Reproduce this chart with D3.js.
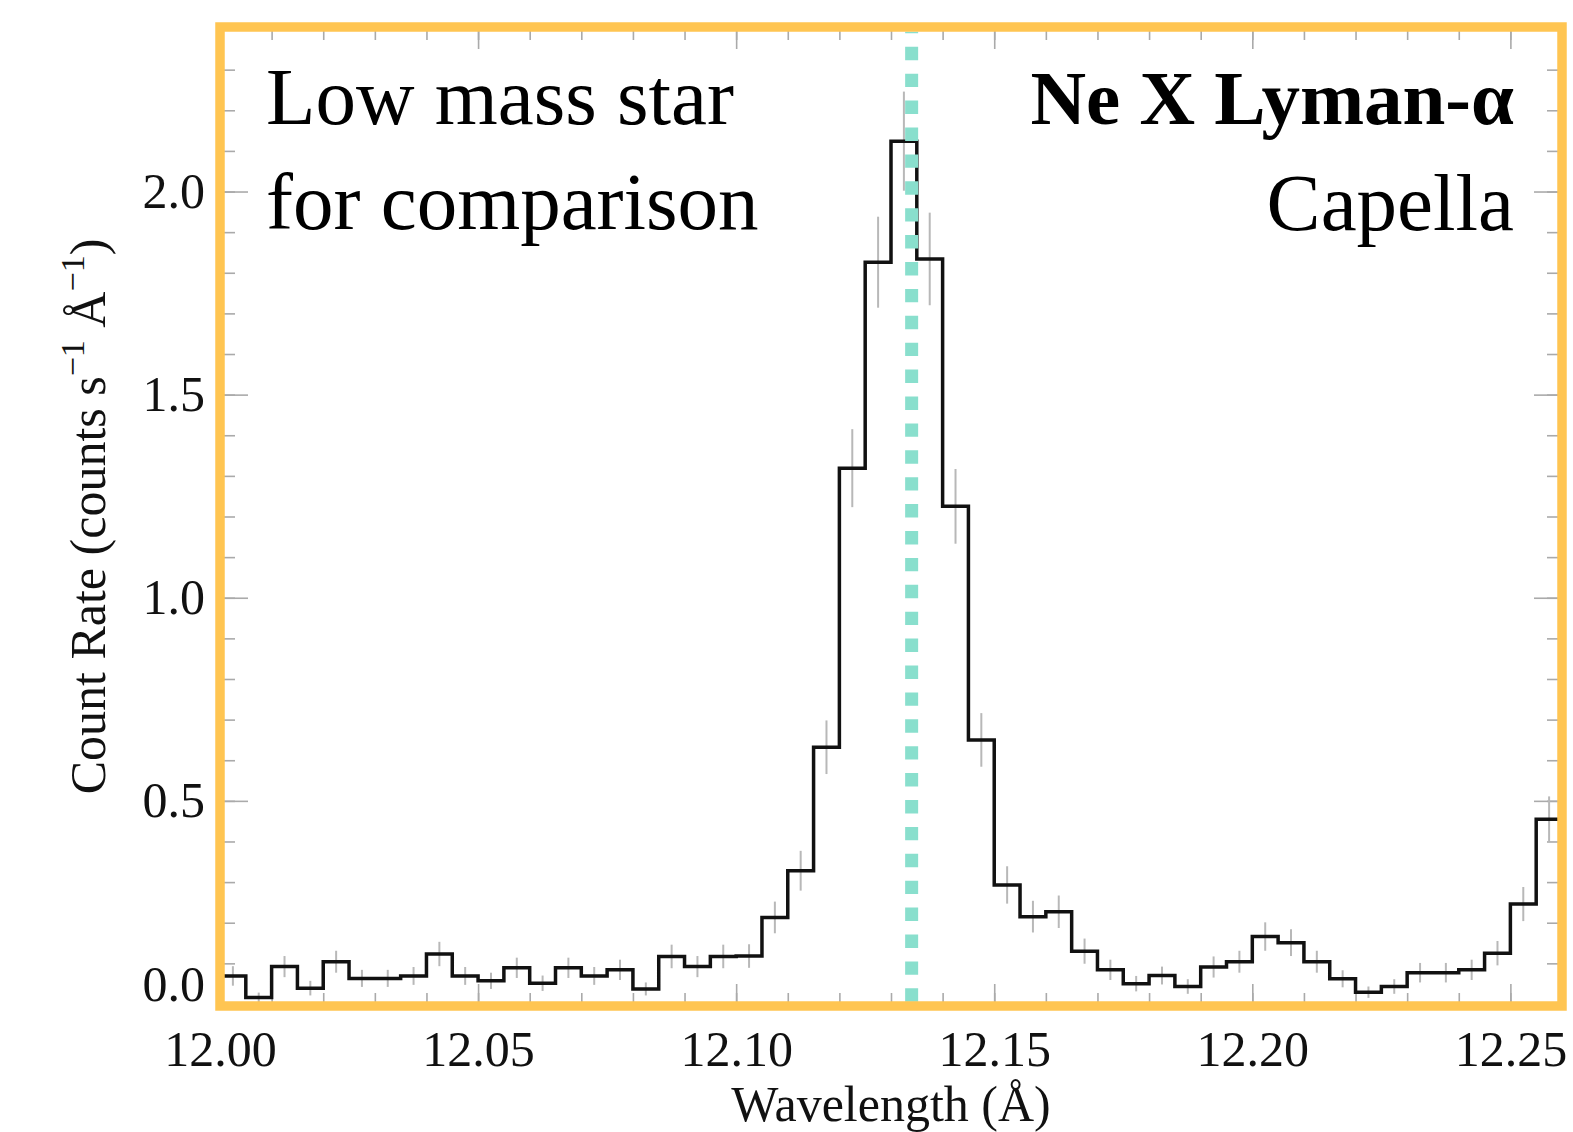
<!DOCTYPE html>
<html>
<head>
<meta charset="utf-8">
<script src="https://cdn.jsdelivr.net/npm/d3@7"></script>
<style>
  body { margin: 0; background: #fff; }
  svg { display: block; }
</style>
</head>
<body>
<div id="chart"></div>
<script>
// Data: Capella, Ne X Lyman-alpha region. Lower bin edges (A), 0.005 A bins
var wavelength = [12.000, 12.005, 12.010, 12.015, 12.020, 12.025, 12.030, 12.035, 12.040, 12.045,
                  12.050, 12.055, 12.060, 12.065, 12.070, 12.075, 12.080, 12.085, 12.090, 12.095,
                  12.100, 12.105, 12.110, 12.115, 12.120, 12.125, 12.130, 12.135, 12.140, 12.145,
                  12.150, 12.155, 12.160, 12.165, 12.170, 12.175, 12.180, 12.185, 12.190, 12.195,
                  12.200, 12.205, 12.210, 12.215, 12.220, 12.225, 12.230, 12.235, 12.240, 12.245,
                  12.250, 12.255];
var countRate = [0.069, 0.016, 0.092, 0.039, 0.104, 0.063, 0.063, 0.069, 0.123, 0.069,
                 0.057, 0.089, 0.051, 0.089, 0.069, 0.084, 0.037, 0.117, 0.092, 0.117,
                 0.118, 0.213, 0.328, 0.632, 1.319, 1.826, 2.124, 1.834, 1.225, 0.650,
                 0.293, 0.215, 0.227, 0.130, 0.084, 0.050, 0.070, 0.043, 0.091, 0.104,
                 0.166, 0.151, 0.104, 0.062, 0.029, 0.043, 0.077, 0.077, 0.084, 0.125,
                 0.246, 0.455];
var rateError = [0.024, 0.012, 0.026, 0.018, 0.027, 0.021, 0.021, 0.022, 0.030, 0.022,
                 0.020, 0.025, 0.019, 0.025, 0.022, 0.025, 0.016, 0.029, 0.026, 0.029,
                 0.029, 0.039, 0.049, 0.066, 0.096, 0.112, 0.122, 0.114, 0.092, 0.066,
                 0.046, 0.039, 0.040, 0.031, 0.025, 0.019, 0.022, 0.018, 0.026, 0.027,
                 0.035, 0.033, 0.027, 0.021, 0.014, 0.018, 0.024, 0.024, 0.025, 0.030,
                 0.042, 0.056];
var binWidth = 0.005;
var lineCentre = 12.134;
var xMajorTicks = [12.00, 12.05, 12.10, 12.15, 12.20, 12.25];
var yMajorTicks = [0.0, 0.5, 1.0, 1.5, 2.0];
var annotLeft = ["Low mass star", "for comparison"];
var annotRight = ["Ne X Lyman-α", "Capella"];

// Size
var W = 1573, H = 1132,
    margin = {top: 27, right: 11, bottom: 126, left: 220},
    width = W - margin.left - margin.right,
    height = H - margin.top - margin.bottom,
    font_family = "'Liberation Serif', 'Times New Roman', serif",
    frame_color = "#FFC552",
    tick_color = "#aaaaaa";

// Scales
var xScale = d3.scaleLinear().domain([12.0, 12.26]).range([0, width]),
    yScale = d3.scaleLinear().domain([-0.005, 2.405]).range([height, 0]);

var svg = d3.select("#chart").append("svg")
    .attr("width", W)
    .attr("height", H)
    .append("g")
      .attr("transform", "translate(" + margin.left + "," + margin.top + ")");

// Inner tick marks on all four sides
var xMinor = d3.range(0, 27).map(function(i) { return +(12 + i * 0.01).toFixed(2); }),
    yMinor = d3.range(0, 25).map(function(i) { return +(i * 0.1).toFixed(1); });

function addTicks(axis, values, size, transform) {
  var g = svg.append("g")
    .attr("transform", transform || null)
    .call(axis.tickValues(values).tickSize(-size).tickFormat(""));
  g.select(".domain").remove();
  g.selectAll("line").attr("stroke", tick_color).attr("stroke-width", 1.6);
}
addTicks(d3.axisBottom(xScale), xMinor, 13, "translate(0," + height + ")");
addTicks(d3.axisBottom(xScale), xMajorTicks, 22, "translate(0," + height + ")");
addTicks(d3.axisTop(xScale), xMinor, 13);
addTicks(d3.axisTop(xScale), xMajorTicks, 22);
addTicks(d3.axisLeft(yScale), yMinor, 15);
addTicks(d3.axisLeft(yScale), yMajorTicks, 28);
addTicks(d3.axisRight(yScale), yMinor, 15, "translate(" + width + ",0)");
addTicks(d3.axisRight(yScale), yMajorTicks, 28, "translate(" + width + ",0)");

// Tick labels
var xLabels = svg.append("g")
    .attr("transform", "translate(0," + height + ")")
    .call(d3.axisBottom(xScale).tickValues(xMajorTicks).tickSize(0).tickPadding(24).tickFormat(d3.format(".2f")));
xLabels.select(".domain").remove();
xLabels.attr("font-family", font_family).attr("font-size", 50).attr("color", "#111");

var yLabels = svg.append("g")
    .call(d3.axisLeft(yScale).tickValues(yMajorTicks).tickSize(0).tickPadding(15).tickFormat(d3.format(".1f")));
yLabels.select(".domain").remove();
yLabels.attr("font-family", font_family).attr("font-size", 50).attr("color", "#111");
// lift the 0.0 label clear of the corner
yLabels.selectAll(".tick text").filter(function(d) { return d === 0; }).attr("y", -19);

// Error bars
svg.append("g")
  .selectAll("line")
  .data(wavelength)
  .enter().append("line")
    .attr("x1", function(d) { return xScale(d + binWidth / 2); })
    .attr("x2", function(d) { return xScale(d + binWidth / 2); })
    .attr("y1", function(d, i) { return yScale(countRate[i] - rateError[i]); })
    .attr("y2", function(d, i) { return yScale(countRate[i] + rateError[i]); })
    .attr("stroke", "#b8b8b8")
    .attr("stroke-width", 2);

// Histogram
var steps = wavelength.map(function(d, i) { return [d, countRate[i]]; });
steps.push([wavelength[wavelength.length - 1] + binWidth, countRate[countRate.length - 1]]);

svg.append("path")
  .datum(steps)
  .attr("fill", "none")
  .attr("stroke", "#111")
  .attr("stroke-width", 3.5)
  .attr("stroke-linejoin", "miter")
  .attr("d", d3.line()
    .x(function(d) { return xScale(d[0]); })
    .y(function(d) { return yScale(d[1]); })
    .curve(d3.curveStepAfter));

// Rest wavelength of the line
svg.append("line")
  .attr("x1", xScale(lineCentre))
  .attr("x2", xScale(lineCentre))
  .attr("y1", height - 4.3)
  .attr("y2", 4.7)
  .attr("stroke", "#89dfcd")
  .attr("stroke-width", 13)
  .attr("stroke-dasharray", "13.4,13.5");

// Frame
svg.append("rect")
  .attr("x", 0)
  .attr("y", 0)
  .attr("width", width)
  .attr("height", height)
  .attr("fill", "none")
  .attr("stroke", frame_color)
  .attr("stroke-width", 9.5);

// Annotations
svg.append("g")
  .selectAll("text")
  .data(annotLeft)
  .enter().append("text")
    .attr("x", 46)
    .attr("y", function(d, i) { return 97 + i * 105; })
    .attr("font-family", font_family)
    .attr("font-size", 81)
    .attr("fill", "#000")
    .text(function(d) { return d; });

svg.append("g")
  .selectAll("text")
  .data(annotRight)
  .enter().append("text")
    .attr("x", 1294)
    .attr("y", function(d, i) { return 97 + i * 106; })
    .attr("text-anchor", "end")
    .attr("font-family", font_family)
    .attr("font-size", function(d, i) { return i === 0 ? 77 : 81; })
    .attr("font-weight", function(d, i) { return i === 0 ? "bold" : "normal"; })
    .attr("fill", "#000")
    .text(function(d) { return d; });

// Axis titles
svg.append("text")
  .attr("x", width / 2)
  .attr("y", height + 115)
  .attr("text-anchor", "middle")
  .attr("font-family", font_family)
  .attr("font-size", 50)
  .attr("fill", "#111")
  .text("Wavelength (Å)");

var yTitle = svg.append("text")
  .attr("transform", "translate(" + (-115) + "," + (height / 2) + ") rotate(-90)")
  .attr("text-anchor", "middle")
  .attr("font-family", font_family)
  .attr("font-size", 50)
  .attr("fill", "#111");
yTitle.append("tspan").text("Count Rate (counts s");
yTitle.append("tspan").attr("font-size", 34).attr("dy", -21).text("−1");
yTitle.append("tspan").attr("dy", 21).text(" Å");
yTitle.append("tspan").attr("font-size", 34).attr("dy", -21).text("−1");
yTitle.append("tspan").attr("dy", 21).text(")");
</script>
</body>
</html>
